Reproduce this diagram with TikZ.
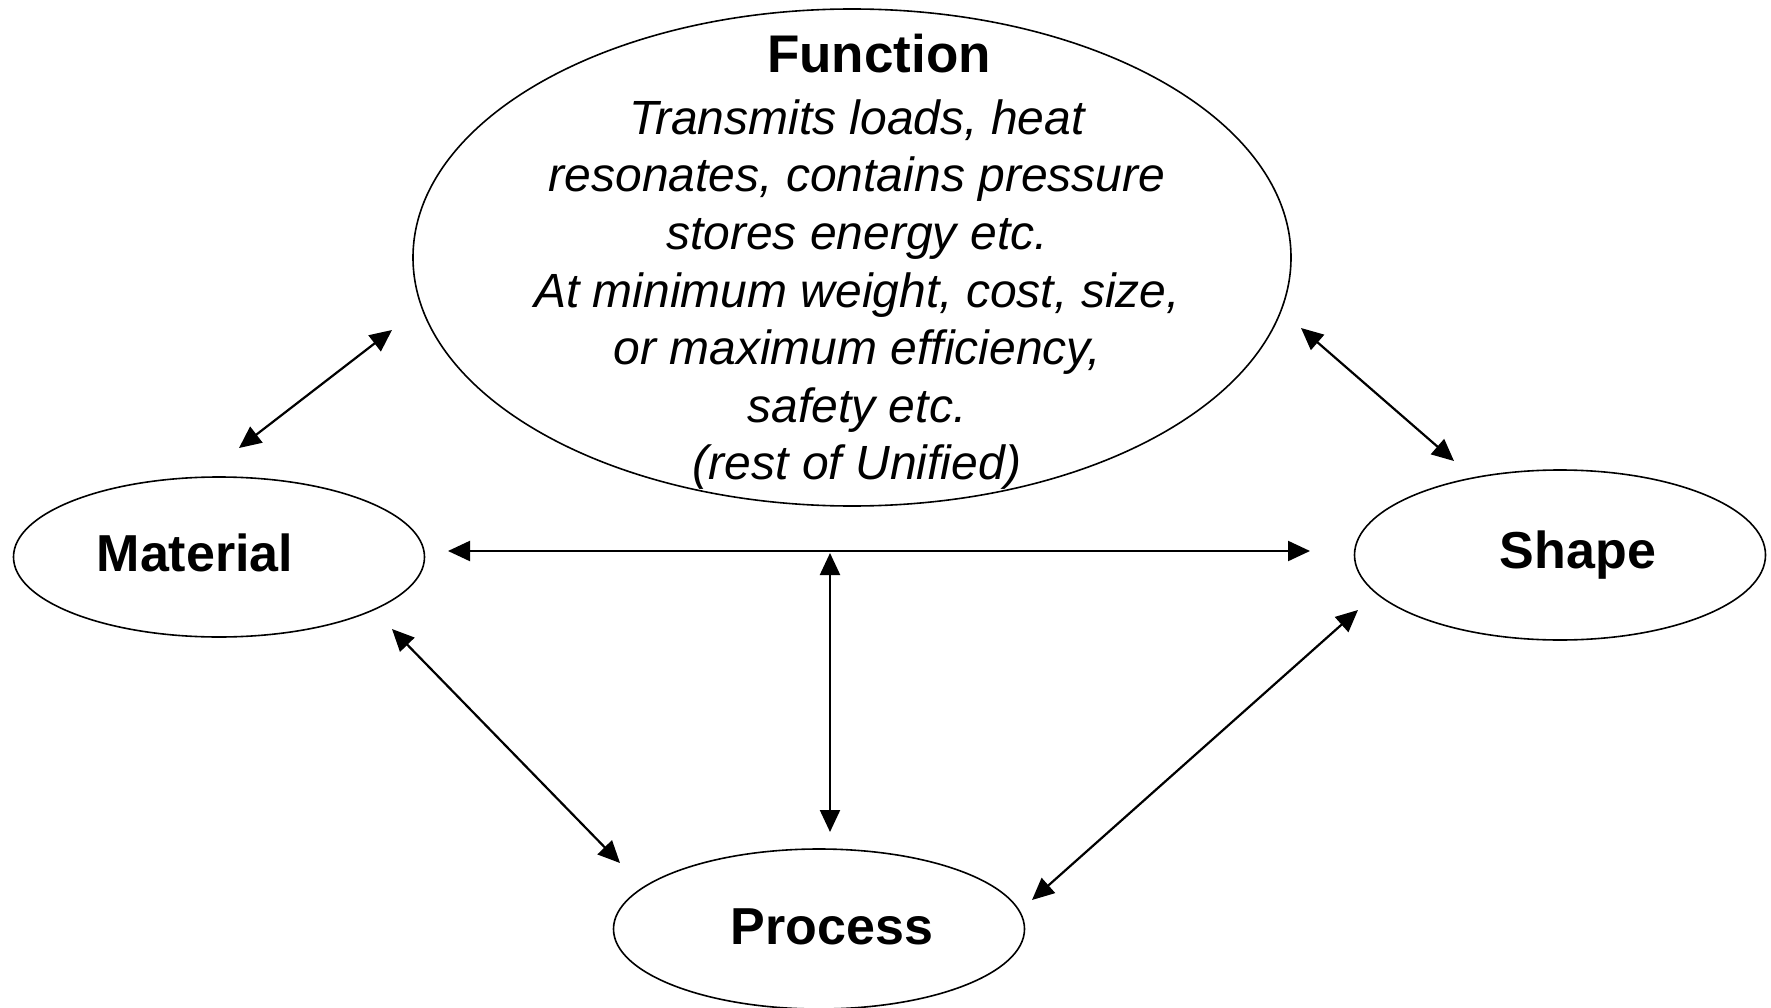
\documentclass[tikz,border=0pt]{standalone}
\usepackage{fontspec}
\setmainfont{Liberation Sans}
\usetikzlibrary{shapes.geometric,arrows.meta}
\tikzset{
  oval/.style={draw=black,ellipse,line width=1.6pt,inner sep=0pt},
  lbl/.style={font=\bfseries\fontsize{52}{60}\selectfont},
  link/.style={line width=2.2pt,{Triangle[length=22pt,width=20pt]}-{Triangle[length=22pt,width=20pt]}}
}
\begin{document}
\begin{tikzpicture}[x=1pt,y=-1pt]
\useasboundingbox (0,0) rectangle (1771,1008);
\node[oval,minimum width=878pt,minimum height=497pt] (func) at (852,257.5) {};
\node[align=center,inner sep=0pt,font=\fontsize{48}{57.6}\selectfont\itshape] (functext) at (857,262) {%
  \hspace*{44pt}{\upshape\bfseries\fontsize{53}{57.6}\selectfont Function}\\[4pt]
  Transmits loads, heat\\
  resonates, contains pressure\\
  stores energy etc.\\
  At minimum weight, cost, size,\\
  or maximum efficiency,\\
  safety etc.\\
  (rest of Unified)};
\node[oval,minimum width=411pt,minimum height=160pt] (material) at (219,557) {};
\node[lbl] (materialtext) at (195,553) {Material};
\node[oval,minimum width=411pt,minimum height=170pt] (shape) at (1560,555) {};
\node[lbl] (shapetext) at (1578,555) {Shape};
\node[oval,minimum width=411pt,minimum height=160pt] (process) at (819,929) {};
\node[lbl] (processtext) at (832,927) {Process};
\coordinate (mf1) at (239,448);
\coordinate (mf2) at (392,330);
\coordinate (fs1) at (1301,328);
\coordinate (fs2) at (1454,461);
\coordinate (ms1) at (448,551);
\coordinate (ms2) at (1310,551);
\coordinate (hp1) at (830,553);
\coordinate (hp2) at (830,832);
\coordinate (mp1) at (392,629);
\coordinate (mp2) at (620,863);
\coordinate (sp1) at (1358,610);
\coordinate (sp2) at (1032,900);
\draw[link] (mf1) -- (mf2);
\draw[link] (fs1) -- (fs2);
\draw[link] (ms1) -- (ms2);
\draw[link] (hp1) -- (hp2);
\draw[link] (mp1) -- (mp2);
\draw[link] (sp1) -- (sp2);
\end{tikzpicture}
\end{document}
